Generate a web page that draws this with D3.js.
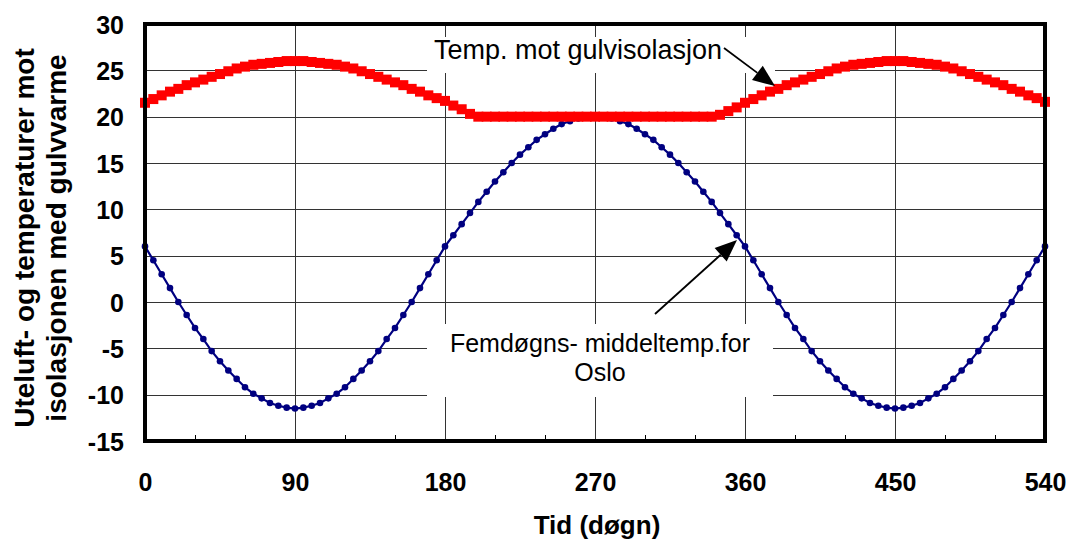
<!DOCTYPE html>
<html><head><meta charset="utf-8">
<script src="https://cdn.jsdelivr.net/npm/d3@7"></script>
<style>body{margin:0;background:#fff} svg{display:block}</style>
</head><body>
<script>
// Days (five-day steps)
const days = [0,5,10,15,20,25,30,35,40,45,50,55,60,65,70,75,80,85,90,95,100,105,110,115,120,125,130,135,140,145,150,155,160,165,170,175,180,
185,190,195,200,205,210,215,220,225,230,235,240,245,250,255,260,265,270,275,280,285,290,295,300,305,310,315,320,325,330,335,340,345,350,355,
360,365,370,375,380,385,390,395,400,405,410,415,420,425,430,435,440,445,450,455,460,465,470,475,480,485,490,495,500,505,510,515,520,525,530,535,540];

// Femdøgns-middeltemp. for Oslo
const osloTemp = [6.0,4.5,3.0,1.5,0.0,-1.4,-2.8,-4.0,-5.3,-6.4,-7.4,-8.3,-9.2,-9.9,-10.4,-10.9,-11.2,-11.4,-11.5,-11.4,-11.2,-10.9,-10.4,-9.9,-9.2,-8.3,-7.4,-6.4,-5.3,-4.0,-2.8,-1.4,0.0,1.5,3.0,4.5,6.0,
7.2,8.4,9.6,10.8,11.9,13.0,14.0,15.0,15.9,16.7,17.5,18.1,18.7,19.2,19.5,19.8,19.9,20.0,19.9,19.8,19.5,19.2,18.7,18.1,17.5,16.7,15.9,15.0,14.0,13.0,11.9,10.8,9.6,8.4,7.2,
6.0,4.5,3.0,1.5,0.0,-1.4,-2.8,-4.0,-5.3,-6.4,-7.4,-8.3,-9.2,-9.9,-10.4,-10.9,-11.2,-11.4,-11.5,-11.4,-11.2,-10.9,-10.4,-9.9,-9.2,-8.3,-7.4,-6.4,-5.3,-4.0,-2.8,-1.4,0.0,1.5,3.0,4.5,6.0];

// Temp. mot gulvisolasjon
const floorTemp = [21.5,21.9,22.3,22.7,23.0,23.4,23.7,24.0,24.3,24.6,24.9,25.2,25.4,25.6,25.7,25.8,25.9,26.0,26.0,26.0,25.9,25.8,25.7,25.6,25.4,25.2,24.9,24.6,24.3,24.0,23.7,23.4,23.0,22.7,22.3,22.0,21.7,
21.2,20.8,20.3,20.0,20.0,20.0,20.0,20.0,20.0,20.0,20.0,20.0,20.0,20.0,20.0,20.0,20.0,20.0,20.0,20.0,20.0,20.0,20.0,20.0,20.0,20.0,20.0,20.0,20.0,20.0,20.0,20.0,20.2,20.6,21.0,
21.5,21.9,22.3,22.7,23.0,23.4,23.7,24.0,24.3,24.6,24.9,25.2,25.4,25.6,25.7,25.8,25.9,26.0,26.0,26.0,25.9,25.8,25.7,25.6,25.4,25.2,24.9,24.6,24.3,24.0,23.7,23.4,23.0,22.7,22.3,22.0,21.6];

const xTicks = [0,90,180,270,360,450,540];
const xMinorTicks = [30,60,120,150,210,240,300,330,390,420,480,510];
const yTicks = [-15,-10,-5,0,5,10,15,20,25,30];
const yTitle = ["Uteluft- og temperaturer mot","isolasjonen med gulvvarme"];
const xTitle = "Tid (døgn)";
const note1 = "Temp. mot gulvisolasjon";
const note2 = ["Femdøgns- middeltemp.for","Oslo"];

const W = 1069, H = 542;
const L = 145, R = 1045, T = 24, B = 441;
const FONT = "'Liberation Sans', Arial, Helvetica, sans-serif";

const svg = d3.select("body").append("svg").attr("width", W).attr("height", H);
const x = d3.scaleLinear().domain([0,540]).range([L,R]);
const y = d3.scaleLinear().domain([-15,30]).range([B,T]);

// gridlines
const grid = svg.append("g").attr("stroke", "#333").attr("stroke-width", 1).attr("shape-rendering","crispEdges");
grid.selectAll("line.h").data(yTicks.filter(v => v > -15 && v < 30)).join("line")
  .attr("x1", L).attr("x2", R).attr("y1", d => Math.round(y(d))+0.5).attr("y2", d => Math.round(y(d))+0.5);
grid.selectAll("line.v").data(xTicks.filter(v => v > 0 && v < 540)).join("line")
  .attr("y1", T).attr("y2", B).attr("x1", d => Math.round(x(d))+0.5).attr("x2", d => Math.round(x(d))+0.5);
// minor ticks on bottom (inside)
grid.selectAll("line.m").data(xMinorTicks).join("line")
  .attr("y1", B).attr("y2", B-6).attr("x1", d => Math.round(x(d))+0.5).attr("x2", d => Math.round(x(d))+0.5)
  .attr("stroke","#000");

// annotation white boxes
svg.append("rect").attr("x", 427).attr("y", 37).attr("width", 348).attr("height", 36).attr("fill", "#fff");
svg.append("rect").attr("x", 427).attr("y", 324).attr("width", 346).attr("height", 73).attr("fill", "#fff");

// blue series
const blueData = days.map((d,i) => [d, osloTemp[i]]);
svg.append("path").datum(blueData)
  .attr("fill","none").attr("stroke","#000080").attr("stroke-width",2.2)
  .attr("d", d3.line().x(d => x(d[0])).y(d => y(d[1])));
svg.append("g").selectAll("circle").data(blueData).join("circle")
  .attr("cx", d => x(d[0])).attr("cy", d => y(d[1])).attr("r", 3.3).attr("fill","#000080");

// red series
const redData = days.map((d,i) => [d, floorTemp[i]]);
svg.append("path").datum(redData)
  .attr("fill","none").attr("stroke","#ff0000").attr("stroke-width",4)
  .attr("d", d3.line().x(d => x(d[0])).y(d => y(d[1])));
const s = 10;
svg.append("g").selectAll("rect").data(redData).join("rect")
  .attr("x", d => x(d[0]) - s/2).attr("y", d => y(d[1]) - s/2)
  .attr("width", s).attr("height", s).attr("fill","#ff0000");

// frame
svg.append("rect").attr("x", L).attr("y", T).attr("width", R-L).attr("height", B-T)
  .attr("fill","none").attr("stroke","#000").attr("stroke-width",4);

// axes labels
const gx = svg.append("g").attr("transform", `translate(0,${B})`)
  .call(d3.axisBottom(x).tickValues(xTicks).tickSize(0).tickFormat(d => String(d)));
gx.select(".domain").remove();
gx.selectAll("text").attr("y", 50).attr("dy", null)
  .attr("font-family", FONT).attr("font-size", 25).attr("font-weight","bold").attr("fill","#000");

const gy = svg.append("g").attr("transform", `translate(${L},0)`)
  .call(d3.axisLeft(y).tickValues(yTicks).tickSize(0).tickPadding(21).tickFormat(d => String(d)));
gy.select(".domain").remove();
gy.selectAll("text").attr("dy", "0.36em")
  .attr("font-family", FONT).attr("font-size", 25).attr("font-weight","bold").attr("fill","#000");

// titles
svg.append("text").attr("x", 597).attr("y", 534).attr("text-anchor","middle")
  .attr("font-family", FONT).attr("font-size", 26).attr("font-weight","bold").text(xTitle);
yTitle.forEach((t,i) => {
  svg.append("text").attr("transform", `translate(${34 + i*32},238) rotate(-90)`)
    .attr("text-anchor","middle").attr("font-family", FONT).attr("font-size", 28).attr("font-weight","bold").text(t);
});

// annotations
svg.append("text").attr("x", 578).attr("y", 59).attr("text-anchor","middle")
  .attr("font-family", FONT).attr("font-size", 27).text(note1);
note2.forEach((t,i) => {
  svg.append("text").attr("x", 600).attr("y", 352 + i*29).attr("text-anchor","middle")
    .attr("font-family", FONT).attr("font-size", 25).text(t);
});

// arrows
function arrow(x1,y1,x2,y2){
  const ang = Math.atan2(y2-y1, x2-x1);
  const len = 22, half = 9;
  const bx = x2 - len*Math.cos(ang), by = y2 - len*Math.sin(ang);
  svg.append("line").attr("x1",x1).attr("y1",y1).attr("x2",bx).attr("y2",by)
    .attr("stroke","#000").attr("stroke-width",1.8);
  const p1 = [bx + half*Math.sin(ang), by - half*Math.cos(ang)];
  const p2 = [bx - half*Math.sin(ang), by + half*Math.cos(ang)];
  svg.append("polygon").attr("points", [[x2,y2],p1,p2].map(p=>p.join(",")).join(" ")).attr("fill","#000");
}
arrow(724, 48, 775, 86);
arrow(655, 314, 737, 240);
</script>
</body></html>
